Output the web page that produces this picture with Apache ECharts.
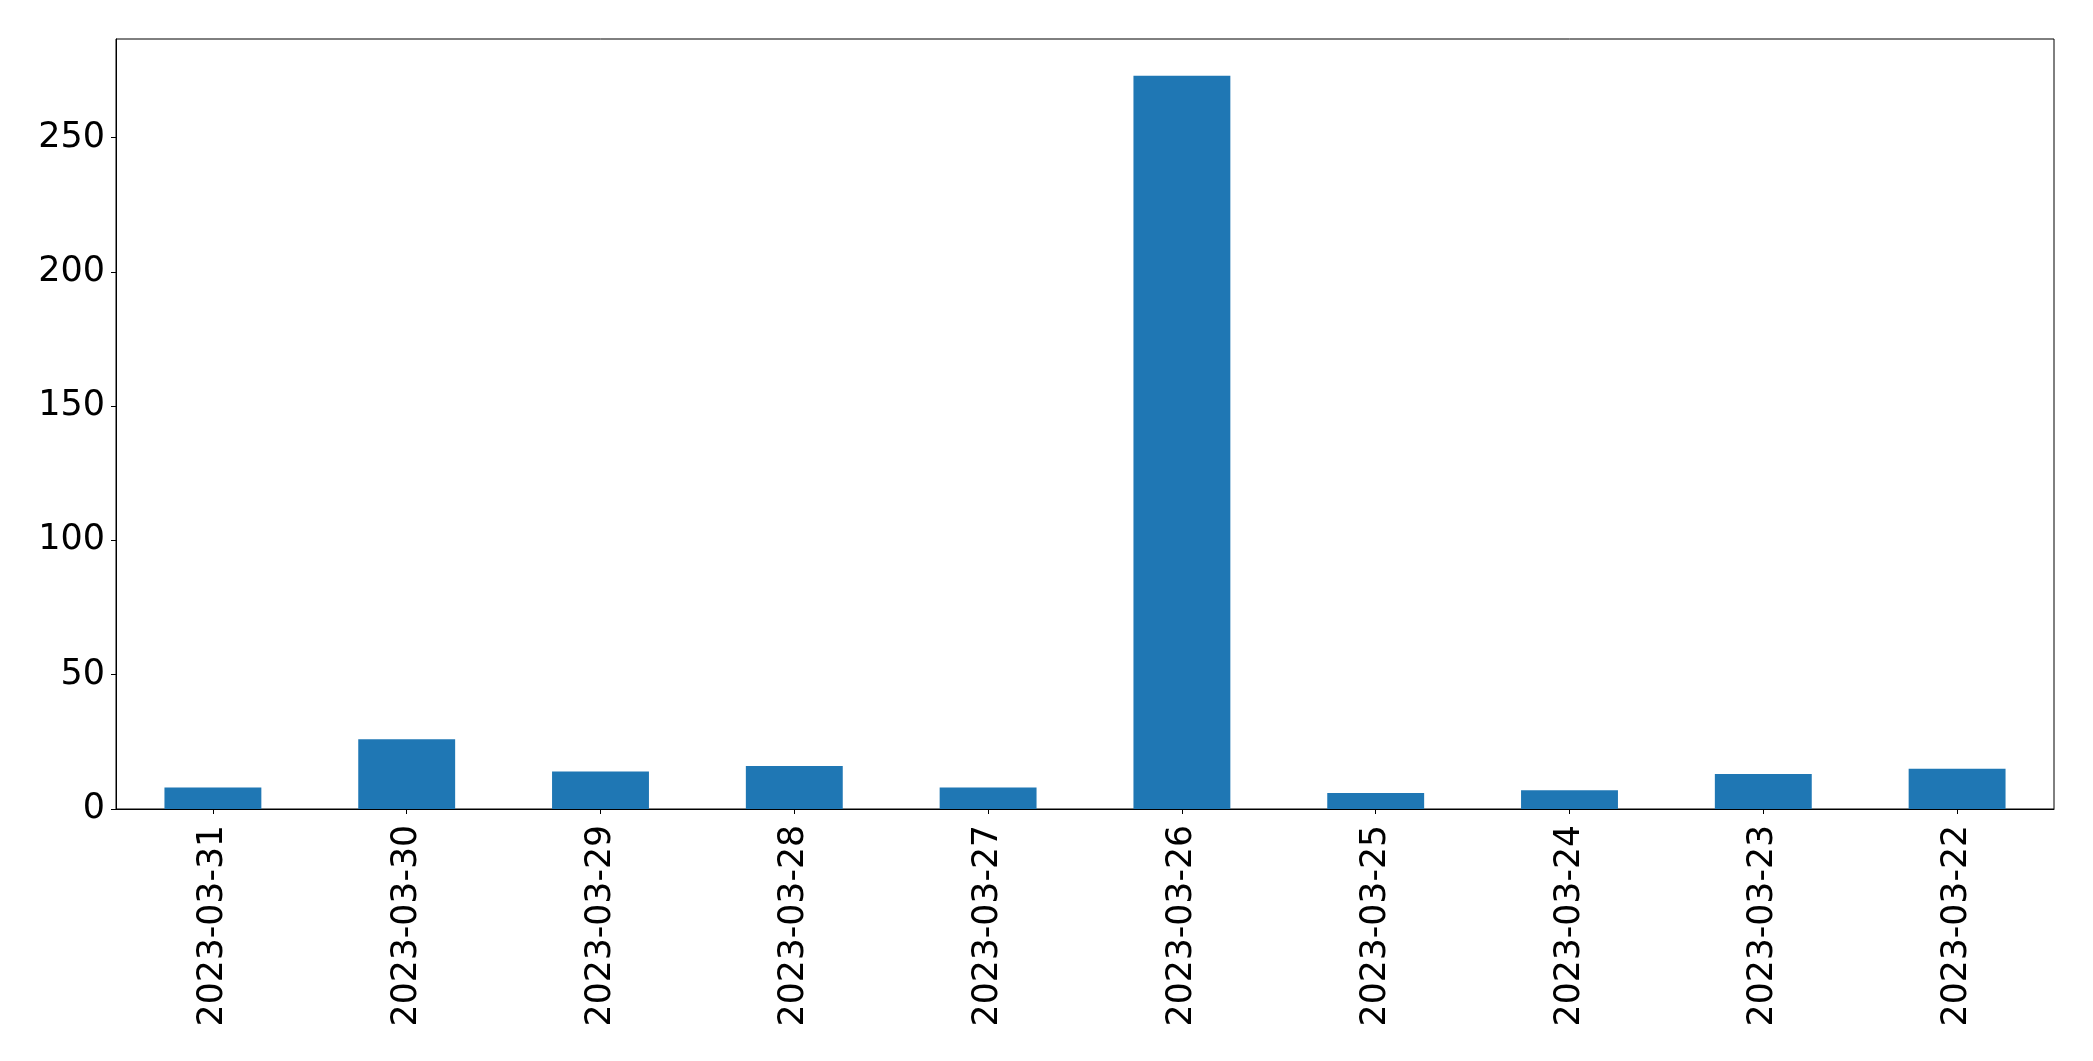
<!DOCTYPE html>
<html>
<head>
<meta charset="utf-8">
<script src="https://cdn.jsdelivr.net/npm/echarts@6/dist/echarts.min.js"></script>
<style>
  html, body { margin: 0; padding: 0; background: #fff; }
  #chart { width: 2093px; height: 1061px; }
</style>
</head>
<body>
<div id="chart"></div>
<script>
const dates = ['2023-03-31', '2023-03-30', '2023-03-29', '2023-03-28', '2023-03-27',
               '2023-03-26', '2023-03-25', '2023-03-24', '2023-03-23', '2023-03-22'];
const counts = [8, 26, 14, 16, 8, 273, 6, 7, 13, 15];
const yTicks = [0, 50, 100, 150, 200, 250];

const myChart = echarts.init(document.getElementById('chart'));
const font = 'DejaVu Sans';
const yMax = Math.max(...counts) * 1.05;

const option = {
    backgroundColor: '#fff',
    animation: false,
    grid: {
        left: 116,
        right: 39,
        top: 39,
        bottom: 252,
        show: true,
        borderColor: '#000',
        borderWidth: 1,
        containLabel: false,
        outerBoundsMode: 'none'
    },
    xAxis: {
        type: 'category',
        data: dates,
        axisLine: { show: true, lineStyle: { color: '#000', width: 1 } },
        axisTick: { show: true, alignWithLabel: true, length: 5, lineStyle: { color: '#000', width: 1 } },
        axisLabel: {
            rotate: 90,
            margin: 16,
            color: '#000',
            fontSize: 34.67,
            fontFamily: font,
            interval: 0
        },
        splitLine: { show: false }
    },
    yAxis: {
        type: 'value',
        min: 0,
        max: yMax,
        interval: 50,
        axisLine: { show: true, lineStyle: { color: '#000', width: 1 } },
        axisTick: { show: true, length: 5, customValues: yTicks, lineStyle: { color: '#000', width: 1 } },
        axisLabel: {
            margin: 11,
            color: '#000',
            fontSize: 35,
            fontFamily: font,
            padding: [4, 0, 0, 0],
            customValues: yTicks
        },
        splitLine: { show: false }
    },
    series: [
        {
            type: 'bar',
            data: counts,
            barWidth: '50%',
            itemStyle: { color: '#1f77b4' }
        }
    ]
};

myChart.setOption(option);
</script>
</body>
</html>
